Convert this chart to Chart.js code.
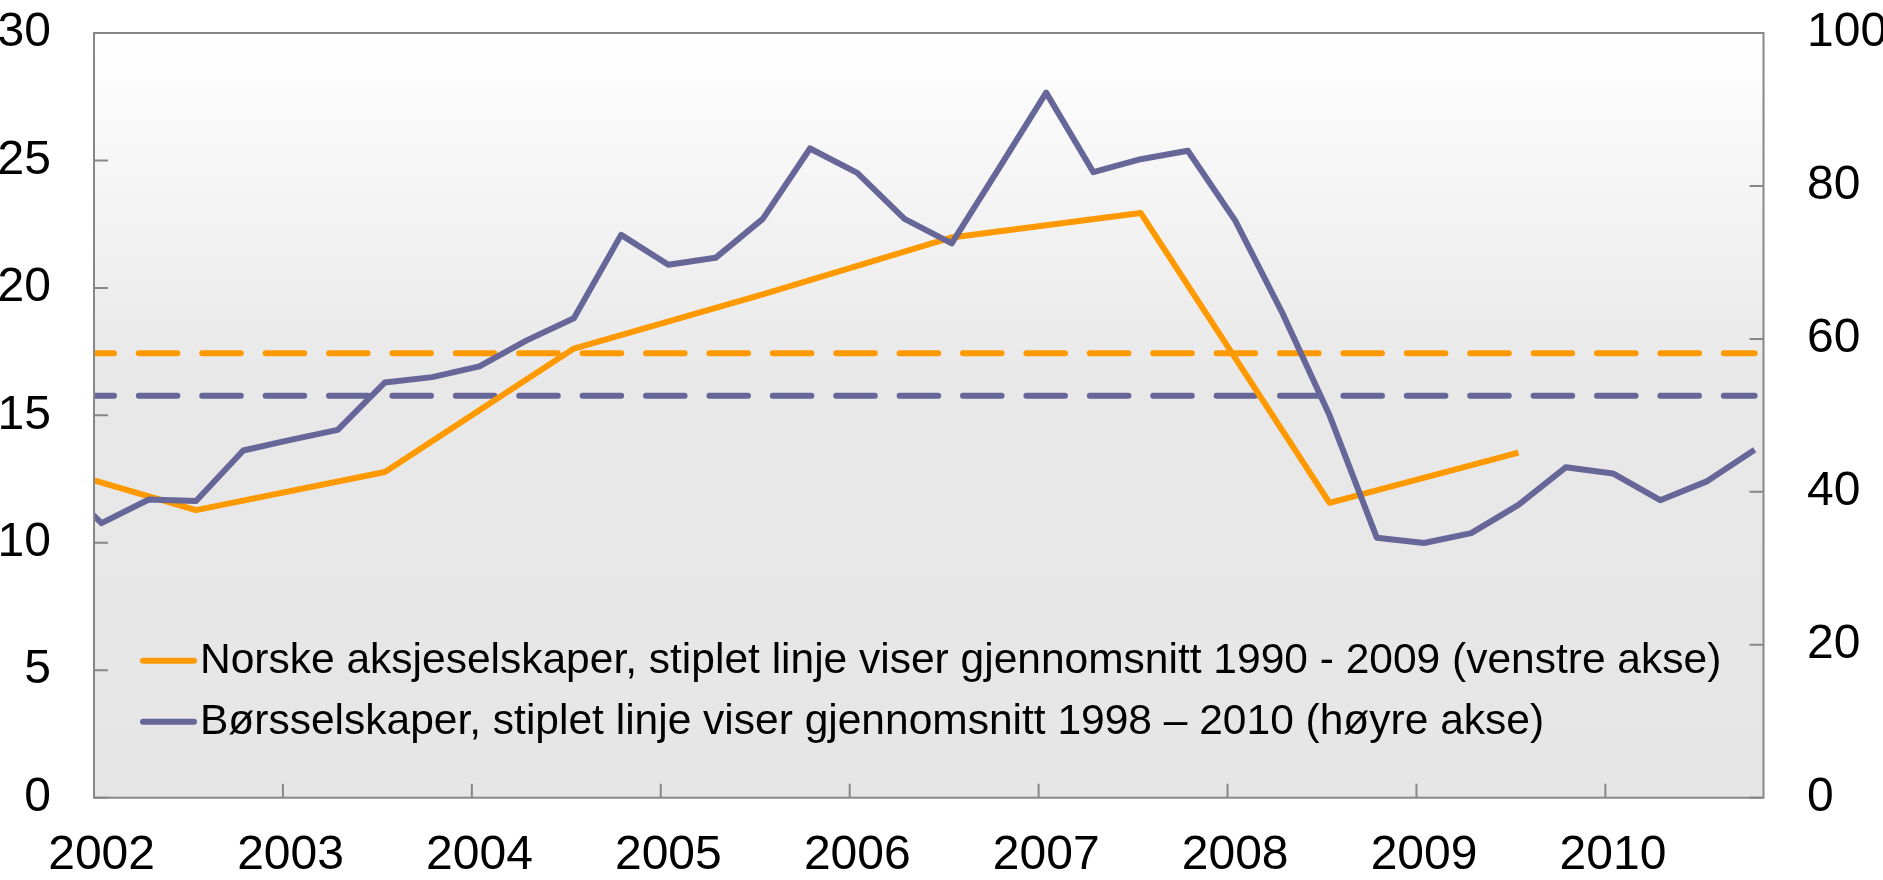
<!DOCTYPE html>
<html>
<head>
<meta charset="utf-8">
<script src="https://cdn.jsdelivr.net/npm/chart.js@4.4.0/dist/chart.umd.min.js"></script>
<style>
  html, body { margin: 0; padding: 0; background: #fff; }
  canvas { display: block; }
</style>
</head>
<body>
<canvas id="chart" width="1883" height="880"></canvas>
<script>
// kvartalsvis, høyre akse
const boersDates = [2001.79, 2002.04, 2002.29, 2002.54, 2002.79, 2003.04, 2003.29, 2003.54, 2003.79,
  2004.04, 2004.29, 2004.54, 2004.79, 2005.04, 2005.29, 2005.54, 2005.79, 2006.04, 2006.29, 2006.54,
  2006.79, 2007.04, 2007.29, 2007.54, 2007.79, 2008.04, 2008.29, 2008.54, 2008.79, 2009.04, 2009.29,
  2009.54, 2009.79, 2010.04, 2010.29, 2010.54, 2010.79];
const boersValues = [41.9, 35.9, 39.0, 38.8, 45.4, 46.8, 48.1, 54.3, 55.0,
  56.4, 59.8, 62.7, 73.6, 69.7, 70.6, 75.7, 84.9, 81.7, 75.7, 72.5,
  82.3, 92.2, 81.8, 83.5, 84.6, 75.5, 63.4, 50.0, 34.0, 33.3, 34.6,
  38.3, 43.2, 42.4, 38.9, 41.4, 45.5];

// årlig, venstre akse
const aksjeDates = [2001.54, 2002.54, 2003.54, 2004.54, 2005.54, 2006.54, 2007.54, 2008.54, 2009.54];
const aksjeValues = [13.45, 11.28, 12.78, 17.62, 19.75, 21.98, 22.94, 11.57, 13.54];

// gjennomsnitt (stiplet)
const aksjeSnitt = 17.44;
const boersSnitt = 52.55;
const snittFra = 2002;
const snittTil = 2010.79;

const xMin = 2002;
const xMax = 2010.837;
const leftTicks = { min: 0, max: 30, step: 5 };
const rightTicks = { min: 0, max: 100, step: 20 };

const labels = [
  'Norske aksjeselskaper, stiplet linje viser gjennomsnitt 1990 - 2009 (venstre akse)',
  'Børsselskaper, stiplet linje viser gjennomsnitt 1998 – 2010 (høyre akse)'
];

const orange = '#ff9900';
const purple = '#666699';
const fontFamily = '"Liberation Sans", Arial, sans-serif';

Chart.defaults.font.family = fontFamily;
Chart.defaults.color = '#000';

const toPoints = (xs, ys) => xs.map((x, i) => ({ x: x, y: ys[i] }));

// faste mål for aksene, uten ekstra polstring
function fixSize(prop, size) {
  return s => {
    s[prop] = size;
    s.paddingTop = 0;
    s.paddingBottom = 0;
    s.paddingLeft = 0;
    s.paddingRight = 0;
  };
}

const frame = {
  id: 'frame',
  beforeDatasetsDraw(chart) {
    const { ctx, chartArea: a } = chart;
    const g = ctx.createLinearGradient(0, a.top, 0, a.bottom);
    g.addColorStop(0, '#ffffff');
    g.addColorStop(0.45, '#e8e8e8');
    g.addColorStop(1, '#e6e6e6');
    ctx.save();
    ctx.fillStyle = g;
    ctx.fillRect(a.left, a.top, a.width, a.height);
    ctx.restore();
  },
  afterDatasetsDraw(chart) {
    const { ctx, chartArea: a, scales } = chart;
    ctx.save();
    ctx.strokeStyle = '#878787';
    ctx.lineWidth = 2;
    ctx.strokeRect(a.left, a.top, a.width, a.height);
    ctx.beginPath();
    scales.y.ticks.forEach(t => {
      const p = scales.y.getPixelForValue(t.value);
      ctx.moveTo(a.left, p); ctx.lineTo(a.left + 14, p);
    });
    scales.y2.ticks.forEach(t => {
      const p = scales.y2.getPixelForValue(t.value);
      ctx.moveTo(a.right, p); ctx.lineTo(a.right - 14, p);
    });
    scales.x.ticks.forEach(t => {
      const p = scales.x.getPixelForValue(t.value);
      ctx.moveTo(p, a.bottom); ctx.lineTo(p, a.bottom - 14);
    });
    ctx.stroke();
    ctx.restore();
  }
};

const legendInside = {
  id: 'legendInside',
  afterDraw(chart) {
    const { ctx, chartArea: a } = chart;
    ctx.save();
    ctx.font = '42.5px ' + fontFamily;
    ctx.textBaseline = 'middle';
    ctx.fillStyle = '#000';
    chart.data.datasets.forEach(d => {
      if (d.legendRow === undefined) return;
      const y = a.bottom - 137 + d.legendRow * 61;
      ctx.strokeStyle = d.borderColor;
      ctx.lineWidth = 6;
      ctx.lineCap = 'round';
      ctx.beginPath();
      ctx.moveTo(a.left + 49, y);
      ctx.lineTo(a.left + 100, y);
      ctx.stroke();
      ctx.fillText(d.label, a.left + 106, y + 1);
    });
    ctx.restore();
  }
};

new Chart(document.getElementById('chart'), {
  type: 'line',
  data: {
    datasets: [
      {
        label: labels[1],
        data: toPoints(boersDates, boersValues),
        yAxisID: 'y2',
        borderColor: purple,
        borderWidth: 6,
        legendRow: 1,
        order: 0
      },
      {
        label: labels[0],
        data: toPoints(aksjeDates, aksjeValues),
        yAxisID: 'y',
        borderColor: orange,
        borderWidth: 6,
        legendRow: 0,
        order: 1
      },
      {
        label: 'snitt aksjeselskaper',
        data: [{ x: snittFra, y: aksjeSnitt }, { x: snittTil, y: aksjeSnitt }],
        yAxisID: 'y',
        borderColor: orange,
        borderWidth: 6,
        borderDash: [38.6, 24.8],
        borderDashOffset: 18.6,
        borderCapStyle: 'round',
        order: 2
      },
      {
        label: 'snitt børsselskaper',
        data: [{ x: snittFra, y: boersSnitt }, { x: snittTil, y: boersSnitt }],
        yAxisID: 'y2',
        borderColor: purple,
        borderWidth: 6,
        borderDash: [38.6, 24.8],
        borderDashOffset: 18.6,
        borderCapStyle: 'round',
        order: 3
      }
    ]
  },
  options: {
    responsive: false,
    animation: false,
    layout: { padding: { top: 33, left: 0, right: 0, bottom: 0 } },
    elements: {
      point: { radius: 0, hoverRadius: 0 },
      line: { tension: 0, fill: false, borderJoinStyle: 'round' }
    },
    datasets: { line: { clip: 0 } },
    plugins: {
      legend: { display: false },
      tooltip: { enabled: false }
    },
    scales: {
      x: {
        type: 'linear',
        min: xMin,
        max: xMax,
        grid: { display: false, drawTicks: false },
        border: { display: false },
        ticks: {
          stepSize: 1,
          includeBounds: false,
          padding: 29,
          labelOffset: 7.6,
          maxRotation: 0,
          font: { size: 48 },
          callback: v => String(v)
        },
        afterFit: fixSize('height', 82.3)
      },
      y: {
        position: 'left',
        min: leftTicks.min,
        max: leftTicks.max,
        grid: { display: false, drawTicks: false },
        border: { display: false },
        ticks: { stepSize: leftTicks.step, padding: 43, font: { size: 48 } },
        afterFit: fixSize('width', 94)
      },
      y2: {
        position: 'right',
        min: rightTicks.min,
        max: rightTicks.max,
        grid: { display: false, drawTicks: false },
        border: { display: false },
        ticks: { stepSize: rightTicks.step, padding: 43.5, font: { size: 48 } },
        afterFit: fixSize('width', 119.5)
      }
    }
  },
  plugins: [frame, legendInside]
});
</script>
</body>
</html>
